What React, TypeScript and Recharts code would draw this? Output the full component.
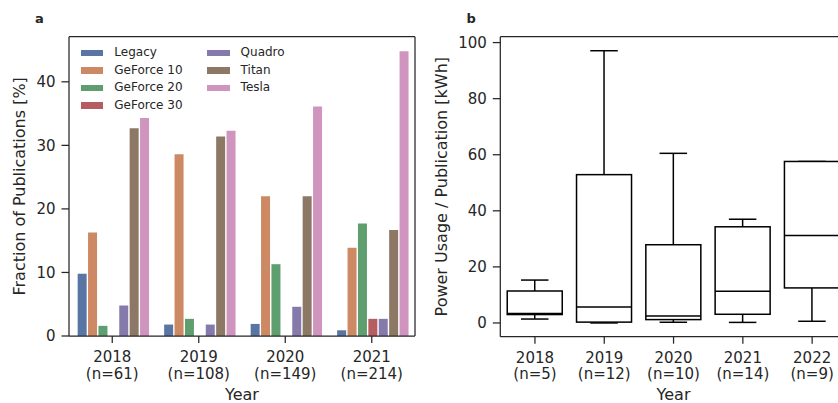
import { BarChart, Bar, XAxis, YAxis, Legend, Label } from "recharts";

// panel a: share of publications per GPU family and year (%)
const years = ["2018", "2019", "2020", "2021"];
const yearCounts = ["(n=61)", "(n=108)", "(n=149)", "(n=214)"];
const families = ["Legacy", "GeForce 10", "GeForce 20", "GeForce 30", "Quadro", "Titan", "Tesla"];
const legacy = [9.8, 1.8, 1.9, 0.9];
const geforce10 = [16.3, 28.6, 22.0, 13.9];
const geforce20 = [1.6, 2.7, 11.3, 17.7];
const geforce30 = [0, 0, 0, 2.7];
const quadro = [4.8, 1.8, 4.6, 2.7];
const titan = [32.7, 31.4, 22.0, 16.7];
const tesla = [34.3, 32.3, 36.1, 44.8];
const shareTicks = [0, 10, 20, 30, 40];

// panel b: power usage per publication (kWh), box plot stats
const boxYears = ["2018", "2019", "2020", "2021", "2022"];
const boxCounts = ["(n=5)", "(n=12)", "(n=10)", "(n=14)", "(n=9)"];
const whiskerLow = [1.4, 0.0, 0.25, 0.2, 0.6];
const quart1 = [3.0, 0.3, 1.2, 3.1, 12.5];
const medians = [3.4, 5.7, 2.5, 11.3, 31.2];
const quart3 = [11.4, 52.9, 27.9, 34.3, 57.6];
const whiskerHigh = [15.3, 97.1, 60.5, 37.0, 57.6];
const powerTicks = [0, 20, 40, 60, 80, 100];

const COLORS = ["#5975a4", "#cc8963", "#5f9e6e", "#b55d60", "#857aab", "#8d7866", "#d095bf"];
const SERIES = [legacy, geforce10, geforce20, geforce30, quadro, titan, tesla];
const TEXT = "#262626";
const FONT = "'DejaVu Sans', sans-serif";

const shareData = years.map((year, i) => {
  const row: Record<string, string | number> = { year, count: yearCounts[i] };
  families.forEach((f, k) => (row[f] = SERIES[k][i]));
  return row;
});

const boxData = boxYears.map((year, i) => ({
  year,
  count: boxCounts[i],
  lo: whiskerLow[i],
  q1: quart1[i],
  med: medians[i],
  q3: quart3[i],
  hi: whiskerHigh[i],
}));

const axisStroke = { stroke: TEXT, strokeWidth: 1.25 };

function YearTick({ x, y, payload, labels, names }: any) {
  const idx = names.indexOf(payload.value);
  return (
    <text x={x} y={y} textAnchor="middle" fill={TEXT} fontSize={15} fontFamily={FONT}>
      <tspan x={x} dy={19}>{payload.value}</tspan>
      <tspan x={x} dy={16.5}>{labels[idx]}</tspan>
    </text>
  );
}

function xTitle(text: string, dy: number) {
  return (p: any) => {
    const vb = p.viewBox;
    return (
      <text x={vb.x + vb.width / 2} y={vb.y + dy} textAnchor="middle" fill={TEXT} fontSize={16} fontFamily={FONT}>
        {text}
      </text>
    );
  };
}

function yTitle(text: string, cx: number) {
  return (p: any) => {
    const vb = p.viewBox;
    const cy = vb.y + vb.height / 2;
    return (
      <text
        x={cx}
        y={cy}
        transform={`rotate(-90, ${cx}, ${cy})`}
        textAnchor="middle"
        dominantBaseline="central"
        fill={TEXT}
        fontSize={16}
        fontFamily={FONT}
      >
        {text}
      </text>
    );
  };
}

function FamilyLegend() {
  return (
    <div
      style={{
        display: "grid",
        gridTemplateColumns: "126.3px auto",
        gridAutoFlow: "column",
        gridTemplateRows: "repeat(4, 17.5px)",
        fontFamily: FONT,
        fontSize: 12,
        color: TEXT,
      }}
    >
      {families.map((f, i) => (
        <div key={f} style={{ display: "flex", alignItems: "center", lineHeight: "17.5px" }}>
          <span style={{ display: "inline-block", width: 22.3, height: 6.5, background: COLORS[i], marginRight: 11 }} />
          {f}
        </div>
      ))}
    </div>
  );
}

function BoxShape(props: any) {
  const { x, y, width, height, payload } = props;
  const { lo, hi, q1, med, q3 } = payload;
  const px = (v: number) => y + ((hi - v) / (hi - lo)) * height;
  const cx = x + width / 2;
  const cap = width / 4;
  return (
    <g stroke="#000" strokeWidth={1.5} fill="none">
      <line x1={cx} x2={cx} y1={px(hi)} y2={px(q3)} />
      <line x1={cx} x2={cx} y1={px(q1)} y2={px(lo)} />
      <line x1={cx - cap} x2={cx + cap} y1={px(hi)} y2={px(hi)} />
      <line x1={cx - cap} x2={cx + cap} y1={px(lo)} y2={px(lo)} />
      <rect x={x} y={px(q3)} width={width} height={px(q1) - px(q3)} fill="#fff" />
      <line x1={x} x2={x + width} y1={px(med)} y2={px(med)} />
    </g>
  );
}

export default function App() {
  return (
    <div
      style={{
        position: "absolute",
        left: 0,
        top: 0,
        width: 838,
        height: 403,
        overflow: "hidden",
        background: "#fff",
      }}
    >
      <div style={{ position: "absolute", left: 0, top: 0 }}>
        <BarChart
          width={420}
          height={403}
          data={shareData}
          margin={{ top: 35.7, right: 4, bottom: 0, left: 0 }}
          barCategoryGap="10%"
          barGap={1.4}
        >
          <XAxis
            dataKey="year"
            height={67}
            axisLine={axisStroke}
            tickLine={axisStroke}
            tickSize={7}
            tickMargin={0}
            tick={(p: any) => <YearTick {...p} labels={yearCounts} names={years} />}
          >
            <Label content={xTitle("Year", 64)} />
          </XAxis>
          <XAxis xAxisId="top" dataKey="year" orientation="top" height={1} tick={false} tickLine={false} axisLine={axisStroke} />
          <YAxis
            width={69}
            domain={[0, 47.1]}
            ticks={shareTicks}
            axisLine={axisStroke}
            tickLine={axisStroke}
            tickSize={7.5}
            tickMargin={6}
            tick={{ fill: TEXT, fontSize: 15, fontFamily: FONT }}
          >
            <Label content={yTitle("Fraction of Publications [%]", 20)} />
          </YAxis>
          <YAxis yAxisId="right" orientation="right" width={1} domain={[0, 47.1]} tick={false} tickLine={false} axisLine={axisStroke} />
          <Legend
            layout="horizontal"
            verticalAlign="middle"
            align="center"
            content={() => <FamilyLegend />}
            wrapperStyle={{ left: 81, top: 44.2, width: 280, height: 72 }}
          />
          {families.map((f, i) => (
            <Bar key={f} dataKey={f} fill={COLORS[i]} isAnimationActive={false} />
          ))}
        </BarChart>
      </div>

      <div style={{ position: "absolute", left: 420, top: 0 }}>
        <BarChart
          width={430}
          height={403}
          data={boxData}
          margin={{ top: 35.7, right: 2.2, bottom: 0, left: 0 }}
          barCategoryGap="10%"
        >
          <XAxis
            dataKey="year"
            height={66.3}
            axisLine={axisStroke}
            tickLine={axisStroke}
            tickSize={7}
            tickMargin={0}
            tick={(p: any) => <YearTick {...p} labels={boxCounts} names={boxYears} />}
          >
            <Label content={xTitle("Year", 63.5)} />
          </XAxis>
          <XAxis xAxisId="top" dataKey="year" orientation="top" height={1} tick={false} tickLine={false} axisLine={axisStroke} />
          <YAxis
            width={80.3}
            domain={[-4.9, 102.1]}
            ticks={powerTicks}
            axisLine={axisStroke}
            tickLine={axisStroke}
            tickSize={7.5}
            tickMargin={6}
            tick={{ fill: TEXT, fontSize: 15, fontFamily: FONT }}
          >
            <Label content={yTitle("Power Usage / Publication [kWh]", 21.7)} />
          </YAxis>
          <YAxis yAxisId="right" orientation="right" width={1} domain={[-4.9, 102.1]} tick={false} tickLine={false} axisLine={axisStroke} />
          <Bar dataKey={(d: any) => [d.lo, d.hi]} shape={<BoxShape />} isAnimationActive={false} />
        </BarChart>
      </div>

      <svg width={838} height={403} style={{ position: "absolute", left: 0, top: 0, pointerEvents: "none" }}>
        <text x={35} y={23} fontFamily={FONT} fontSize={13} fontWeight="bold" fill={TEXT}>a</text>
        <text x={466.5} y={22.7} fontFamily={FONT} fontSize={13} fontWeight="bold" fill={TEXT}>b</text>
      </svg>
    </div>
  );
}
